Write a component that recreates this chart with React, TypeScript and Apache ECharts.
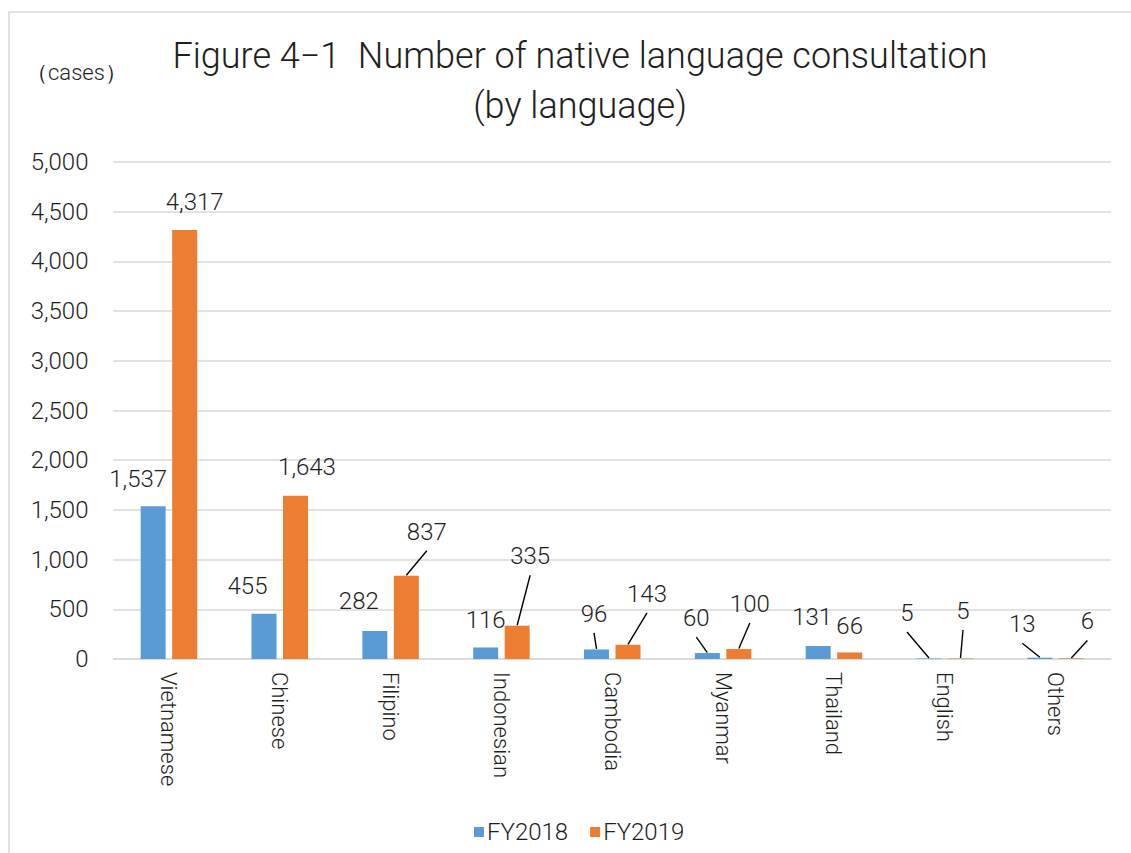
import React, { useEffect, useRef } from "react";
import * as echarts from "echarts";

const categories = ["Vietnamese", "Chinese", "Filipino", "Indonesian", "Cambodia", "Myanmar", "Thailand", "English", "Others"];
const fy2018 = [1537, 455, 282, 116, 96, 60, 131, 5, 13];
const fy2019 = [4317, 1643, 837, 335, 143, 100, 66, 5, 6];
const seriesNames = ["FY2018", "FY2019"];
const yMax = 5000;
const yInterval = 500;

// label placement (Excel-like manually moved labels)
const dx2018 = [-15, -16.5, -16, 0, -2.5, -11, -6, -22, -17.5];
const dy2018 = [-10, -11, -13, -10.5, -18.5, -18, -12, -28.5, -16.5];
const lead2018 = [false, false, false, false, true, true, false, true, true];
const dx2019 = [10, 11.5, 20.5, 13, 19, 11, 0, 2.5, 16];
const dy2019 = [-11, -11.5, -27, -52.5, -34, -28, -9.5, -30.5, -20];
const lead2019 = [false, false, true, true, true, true, false, true, true];

const FONT = "Roboto, 'Noto Sans', sans-serif";
const W = 300;
const TEXT = "#1e1e1e";
const GRID = "#d9d9d9";
const BAR_W = 25;
const BAR_GAP_PX = 6.5;
const LABEL_SIZE = 24;

function fmt(v: number) {
  return v.toLocaleString("en-US");
}

export default function App() {
  const ref = useRef<HTMLDivElement>(null);
  useEffect(() => {
    if (!ref.current) return;
    const chart = echarts.init(ref.current, null, { renderer: "svg" });

    // leader line items: [categoryIndex, value, seriesSide(-1|1), dx, dy]
    const leaders: number[][] = [];
    fy2018.forEach((v, i) => { if (lead2018[i]) leaders.push([i, v, -1, dx2018[i], dy2018[i]]); });
    fy2019.forEach((v, i) => { if (lead2019[i]) leaders.push([i, v, 1, dx2019[i], dy2019[i]]); });

    const labelCfg = {
      show: true,
      position: "top",
      distance: 5,
      fontFamily: FONT,
      fontWeight: W,
      fontSize: LABEL_SIZE,
      color: TEXT,
      formatter: (p: any) => fmt(p.value),
    };
    chart.setOption({
      animation: false,
      backgroundColor: "#fff",
      textStyle: { fontFamily: FONT, color: TEXT },
      title: [
        {
          text: "Figure 4−1  Number of native language consultation\n(by language)",
          left: 575,
          top: 26,
          textAlign: "center",
          textStyle: { fontFamily: FONT, fontSize: 36, fontWeight: W, color: TEXT, lineHeight: 50 },
        },
        {
          text: "（cases）",
          left: 21,
          top: 56,
          textStyle: { fontFamily: FONT, fontSize: 22, fontWeight: W, color: TEXT },
        },
      ],
      graphic: [
        {
          type: "rect",
          shape: { x: 9, y: 12, width: 1150, height: 870 },
          style: { fill: "none", stroke: GRID, lineWidth: 1.5 },
          silent: true,
        },
      ],
      legend: {
        data: seriesNames,
        left: 469,
        top: 815,
        icon: "rect",
        itemWidth: 10,
        itemHeight: 10,
        itemGap: 22,
        textStyle: { fontFamily: FONT, fontWeight: W, fontSize: 24, color: TEXT, padding: [0, 0, 0, -2] },
      },
      grid: { left: 113.5, right: 20, top: 162, bottom: 194, containLabel: false },
      xAxis: {
        type: "category",
        data: categories,
        axisLine: { lineStyle: { color: GRID, width: 1.5 } },
        axisTick: { show: false },
        axisLabel: { rotate: -90, margin: 13, fontFamily: FONT, fontWeight: W, fontSize: 22, color: TEXT, interval: 0 },
      },
      yAxis: {
        type: "value",
        min: 0,
        max: yMax,
        interval: yInterval,
        axisLine: { show: false },
        axisTick: { show: false },
        splitLine: { lineStyle: { color: GRID, width: 1.5 } },
        axisLabel: { margin: 25, fontFamily: FONT, fontWeight: W, fontSize: 24, color: TEXT, formatter: (v: number) => fmt(v) },
      },
      series: [
        {
          name: seriesNames[0],
          type: "bar",
          data: fy2018,
          barWidth: BAR_W,
          barGap: (BAR_GAP_PX / BAR_W) * 100 + "%",
          itemStyle: { color: "#5b9bd5" },
          label: labelCfg,
          labelLayout: (p: any) => ({ dx: dx2018[p.dataIndex], dy: dy2018[p.dataIndex] }),
        },
        {
          name: seriesNames[1],
          type: "bar",
          data: fy2019,
          barWidth: BAR_W,
          barGap: (BAR_GAP_PX / BAR_W) * 100 + "%",
          itemStyle: { color: "#ed7d31" },
          label: labelCfg,
          labelLayout: (p: any) => ({ dx: dx2019[p.dataIndex], dy: dy2019[p.dataIndex] }),
        },
        {
          name: "leaders",
          type: "custom",
          silent: true,
          z: 5,
          data: leaders,
          encode: { x: 0, y: 1 },
          renderItem: (params: any, api: any) => {
            const cat = api.value(0);
            const val = api.value(1);
            const side = api.value(2);
            const dx = api.value(3);
            const dy = api.value(4);
            const pt = api.coord([cat, val]);
            const barX = pt[0] + side * (BAR_W + BAR_GAP_PX) / 2;
            const barTop = pt[1];
            const labelCx = barX + dx;
            const labelCy = barTop - 5 - LABEL_SIZE / 2 + dy;
            return {
              type: "line",
              shape: { x1: labelCx, y1: labelCy + 19, x2: barX, y2: barTop - 0.5 },
              style: { stroke: "#000", lineWidth: 1.4 },
            };
          },
        },
      ],
    });
    return () => chart.dispose();
  }, []);
  return (
    <div
      ref={ref}
      style={{ position: "fixed", left: 0, top: 0, width: 1131, height: 853, background: "#fff" }}
    />
  );
}
